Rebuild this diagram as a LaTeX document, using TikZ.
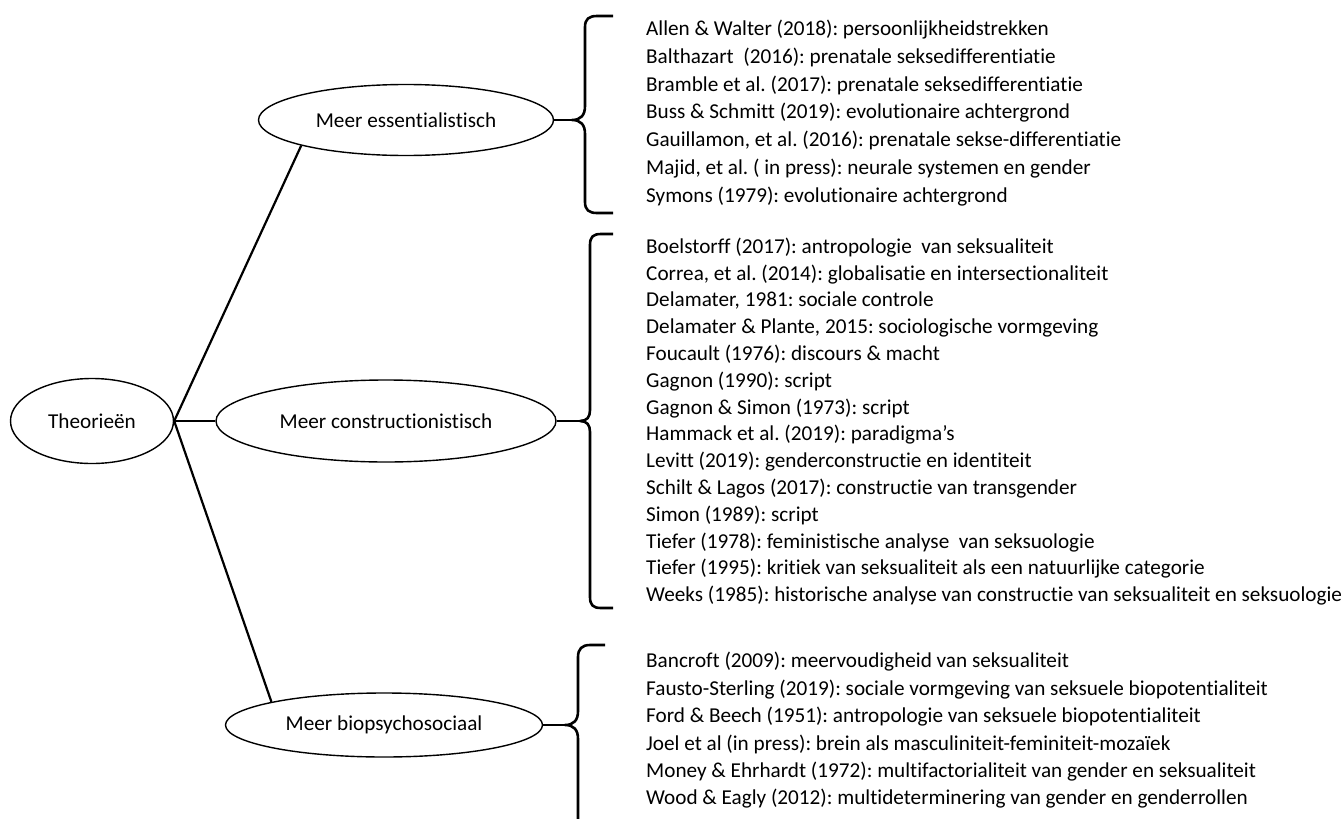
\documentclass[tikz,border=0pt]{standalone}
\usepackage{fontspec}
\setmainfont[Ligatures=NoCommon]{Carlito}
\frenchspacing
\usetikzlibrary{shapes.geometric}

\begin{document}
\begin{tikzpicture}[x=1pt, y=-1pt, every node/.style={font=\fontsize{21.2}{27}\selectfont},
  oval/.style={ellipse, draw, line width=1.4pt, inner sep=0pt},
  refs/.style={anchor=west, align=left, inner sep=0pt},
  link/.style={line width=2.2pt},
  curly/.style={line width=2.6pt, line join=round}]
\useasboundingbox (0,0) rectangle (1344,819);
\node[oval, minimum width=163, minimum height=85] (theo) at (92,421) {Theorieën};
\node[oval, minimum width=295, minimum height=71] (ess) at (406,120) {Meer essentialistisch};
\node[oval, minimum width=340, minimum height=82] (con) at (386,421) {Meer constructionistisch};
\node[oval, minimum width=317, minimum height=64] (bio) at (384,725) {Meer biopsychosociaal};
\draw[link] (theo.east) -- (ess.south west);
\draw[link] (theo.east) -- (con.west);
\draw[link] (theo.east) -- (bio.north west);
% braces
\coordinate (tip1) at (572,120);
\coordinate (tip2) at (580,421);
\coordinate (tip3) at (565,725);
\draw[link] (ess.east) -- (tip1);
\draw[link] (con.east) -- (tip2);
\draw[link] (bio.east) -- (tip3);
\draw[curly] (613,16) -- (597,16) .. controls (589,16) and (585,19) .. (585,27) -- (585,106)
  .. controls (585,115) and (581,120) .. (tip1) .. controls (581,120) and (585,125) .. (585,134)
  -- (585,202) .. controls (585,210) and (589,213) .. (597,213) -- (613,213);
\draw[curly] (613,234) -- (601,234) .. controls (593,234) and (590,237) .. (590,245) -- (590,410)
  .. controls (590,417) and (587,421) .. (tip2) .. controls (587,421) and (590,425) .. (590,432)
  -- (590,597) .. controls (590,605) and (593,608) .. (601,608) -- (613,608);
\draw[curly] (605,645) -- (590,645) .. controls (582,645) and (578,649) .. (578,657) -- (578,711)
  .. controls (578,720) and (574,725) .. (tip3) .. controls (574,725) and (578,730) .. (578,739)
  -- (578,819);
% references
\node[refs, font=\fontsize{21.2}{27.8}\selectfont] (essrefs) at (646,113) {%
Allen \& Walter (2018): persoonlijkheidstrekken\\
Balthazart\ \ (2016): prenatale seksedifferentiatie\\
Bramble et al. (2017): prenatale seksedifferentiatie\\
Buss \& Schmitt (2019): evolutionaire achtergrond\\
Gauillamon, et al. (2016): prenatale sekse-differentiatie\\
Majid, et al. ( in press): neurale systemen en gender\\
Symons (1979): evolutionaire achtergrond};
\node[refs, font=\fontsize{21.2}{26.8}\selectfont] (conrefs) at (646,421.5) {%
Boelstorff (2017): antropologie\ \ van seksualiteit\\
Correa, et al. (2014): globalisatie en intersectionaliteit\\
Delamater, 1981: sociale controle\\
Delamater \& Plante, 2015: sociologische vormgeving\\
Foucault (1976): discours \& macht\\
Gagnon (1990): script\\
Gagnon \& Simon (1973): script\\
Hammack et al. (2019): paradigma’s\\
Levitt (2019): genderconstructie en identiteit\\
Schilt \& Lagos (2017): constructie van transgender\\
Simon (1989): script\\
Tiefer (1978): feministische analyse\ \ van seksuologie\\
Tiefer (1995): kritiek van seksualiteit als een natuurlijke categorie\\
Weeks (1985): historische analyse van constructie van seksualiteit en seksuologie};
\node[refs, font=\fontsize{21.2}{27.4}\selectfont] (biorefs) at (646,730.5) {%
Bancroft (2009): meervoudigheid van seksualiteit\\
Fausto-Sterling (2019): sociale vormgeving van seksuele biopotentialiteit\\
Ford \& Beech (1951): antropologie van seksuele biopotentialiteit\\
Joel et al (in press): brein als masculiniteit-feminiteit-mozaïek\\
Money \& Ehrhardt (1972): multifactorialiteit van gender en seksualiteit\\
Wood \& Eagly (2012): multideterminering van gender en genderrollen};
\end{tikzpicture}
\end{document}
